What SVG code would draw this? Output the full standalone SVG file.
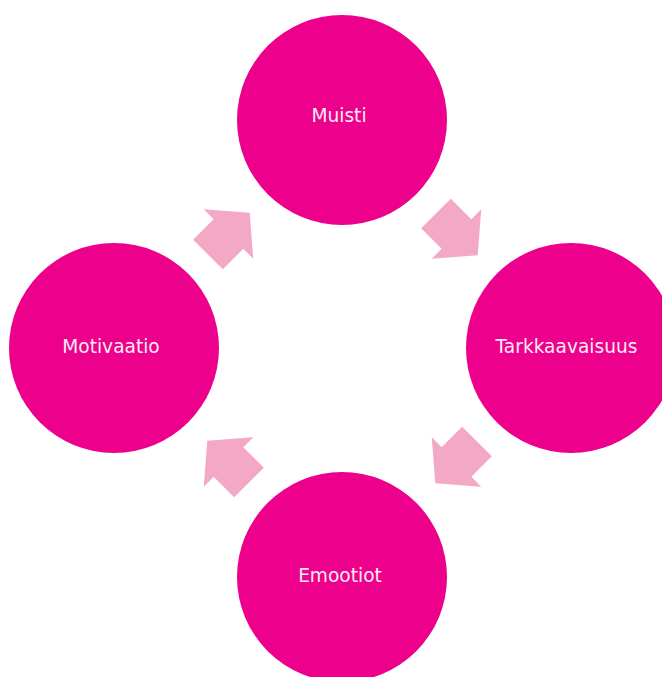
<svg xmlns="http://www.w3.org/2000/svg" width="662" height="677" viewBox="0 0 662 677">
<style>
.node{fill:#EC008C}
.lbl{font-family:"DejaVu Sans",sans-serif;font-size:18.6px;fill:#FDEAF4;text-anchor:middle}
.arr{fill:#F3A8C5}
</style>
<defs>
<polygon id="ba" points="-29,-21 0,-21 0,-35 30,0 0,35 0,21 -29,21"/>
</defs>
<rect width="662" height="677" fill="#ffffff"/>
<g id="connectors">
<use href="#ba" class="arr" transform="translate(228.5,234) rotate(-45)"/>
<use href="#ba" class="arr" transform="translate(456.5,234) rotate(45)"/>
<use href="#ba" class="arr" transform="translate(456.5,462) rotate(135)"/>
<use href="#ba" class="arr" transform="translate(228.5,462) rotate(-135)"/>
</g>
<g id="muisti">
<circle class="node" cx="342" cy="120" r="105"/>
<text class="lbl" x="339" y="122">Muisti</text>
</g>
<g id="tarkkaavaisuus">
<circle class="node" cx="571" cy="348" r="105"/>
<text class="lbl" x="566.5" y="353">Tarkkaavaisuus</text>
</g>
<g id="emootiot">
<circle class="node" cx="342" cy="577" r="105"/>
<text class="lbl" x="340" y="582">Emootiot</text>
</g>
<g id="motivaatio">
<circle class="node" cx="114" cy="348" r="105"/>
<text class="lbl" x="111" y="353">Motivaatio</text>
</g>
</svg>
